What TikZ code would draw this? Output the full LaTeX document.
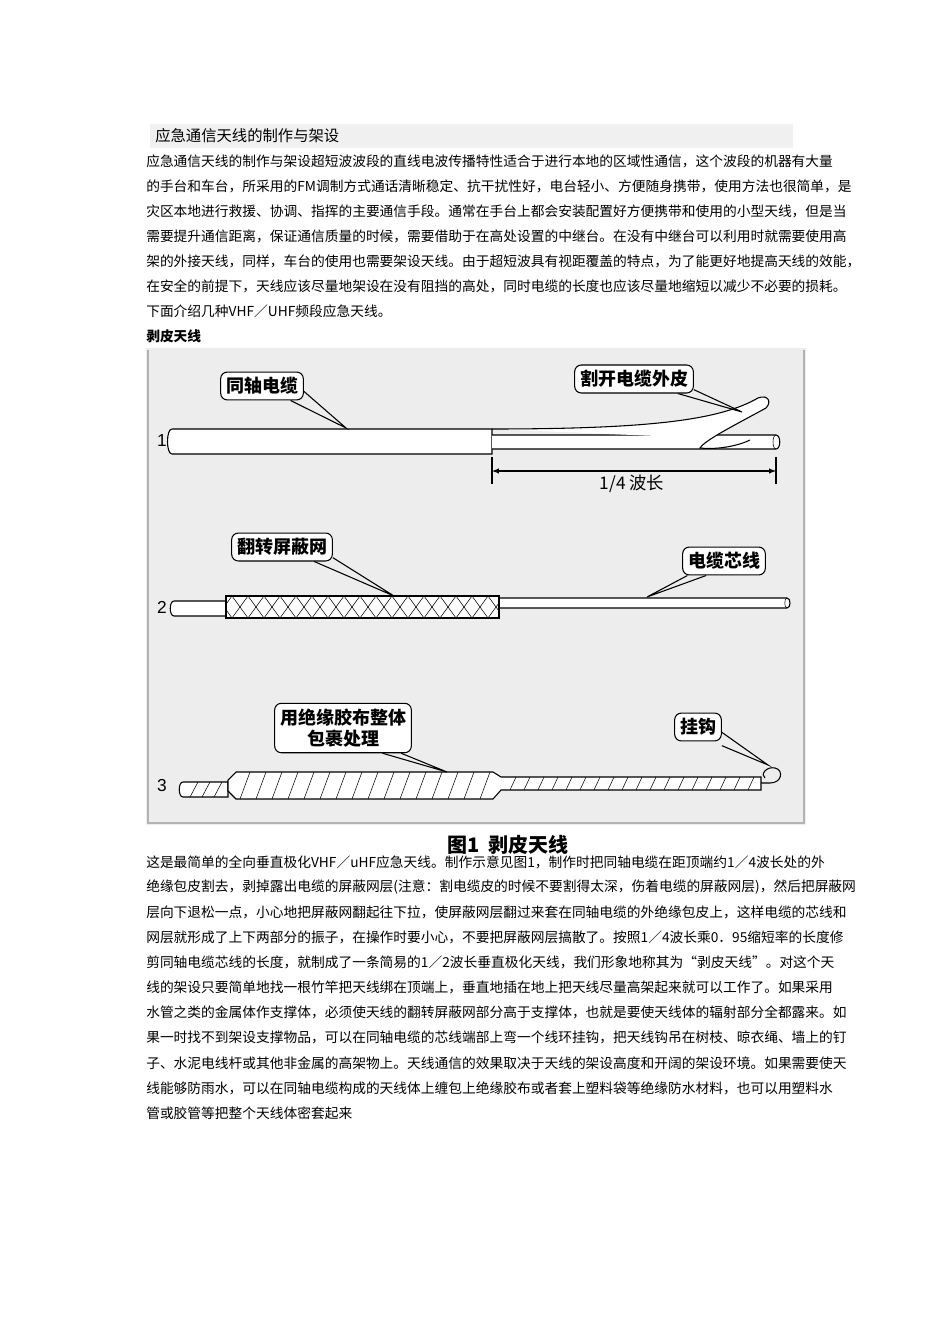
\documentclass[tikz,border=0pt]{standalone}
\usepackage{fontspec}
\setmainfont{Liberation Sans}
\newfontfamily\cjk{Noto Sans CJK SC}
\begin{document}
\begin{tikzpicture}[x=0.75pt,y=-0.75pt,
  body/.style={anchor=west,inner sep=0pt,font=\cjk\fontsize{10.3}{12}\selectfont},
  lbl/.style={draw,thick,rounded corners=5pt,fill=white,font=\cjk\bfseries\fontsize{13.5}{16}\selectfont,align=center,inner sep=4pt},
  ptr/.style={thick},
  cab/.style={thick,fill=white},
  num/.style={font=\fontsize{13}{14}\selectfont,inner sep=0pt}]
\useasboundingbox (0,0) rectangle (950,1344);
\fill[gray!12] (150,124) rectangle (793,148);
\node[body,font=\cjk\fontsize{11.5}{13}\selectfont] (title) at (155,136) {应急通信天线的制作与架设};
\foreach \t [count=\i from 0] in {
{应急通信天线的制作与架设超短波波段的直线电波传播特性适合于进行本地的区域性通信，这个波段的机器有大量},
{的手台和车台，所采用的FM调制方式通话清晰稳定、抗干扰性好，电台轻小、方便随身携带，使用方法也很简单，是},
{灾区本地进行救援、协调、指挥的主要通信手段。通常在手台上都会安装配置好方便携带和使用的小型天线，但是当},
{需要提升通信距离，保证通信质量的时候，需要借助于在高处设置的中继台。在没有中继台可以利用时就需要使用高},
{架的外接天线，同样，车台的使用也需要架设天线。由于超短波具有视距覆盖的特点，为了能更好地提高天线的效能，},
{在安全的前提下，天线应该尽量地架设在没有阻挡的高处，同时电缆的长度也应该尽量地缩短以减少不必要的损耗。},
{下面介绍几种VHF／UHF频段应急天线。}}
  \node[body] (p\i) at (146,161+25*\i) {\t};
\node[body,font=\cjk\bfseries\fontsize{10.3}{12}\selectfont] (h) at (146,336) {剥皮天线};
% figure
\fill[gray!14] (146,348) rectangle (806,825);
\draw[gray!60,thick] (148,350) -- (148,823) -- (804,823) -- (804,350);
% cable 1
\draw[cab] (172,429) -- (492,429) -- (492,454) -- (172,454) .. controls (166,454) and (166,429) .. (172,429);
\draw[cab] (492,435) -- (776,435) .. controls (781,435) and (781,449) .. (776,449) -- (492,449);
\draw (776,435) .. controls (772,435) and (772,449) .. (776,449);
\draw[cab] (492,429) .. controls (650,429) and (720,420) .. (758,398) .. controls (768,394) and (772,402) .. (766,408)
  .. controls (735,425) and (705,440) .. (700,448) .. controls (720,450) and (740,445) .. (750,440);
\draw[thick] (492,457) -- (492,484) (776,457) -- (776,484);
\draw[thick,<->,>=latex] (492,471) -- (776,471);
\node[num] (n1) at (162,441) {1};
\node[font=\cjk\fontsize{13}{15}\selectfont] (q) at (632,484) {1/4 波长};
\node[lbl] (l1) at (262,386) {同轴电缆};
\coordinate (t1) at (346,428);
\draw[ptr] ([xshift=-10pt]l1.south east) -- (t1) -- ([yshift=-4pt]l1.east);
\node[lbl] (l2) at (634,379) {割开电缆外皮};
\coordinate (t2) at (742,412);
\draw[ptr] ([xshift=-12pt]l2.south east) -- (t2) -- ([yshift=-8pt]l2.east);
% cable 2
\node[num] (n2) at (162,607) {2};
\draw[cab] (174,601) -- (226,601) -- (226,616) -- (174,616) .. controls (169,616) and (169,601) .. (174,601);
\draw[cab] (499,598) -- (787,598) .. controls (791,598) and (791,608) .. (787,608) -- (499,608);
\draw (787,598) .. controls (784,598) and (784,608) .. (787,608);
\draw[cab] (226,596) rectangle (499,618);
\begin{scope}
\clip (226,596) rectangle (499,618);
\foreach \x in {216,232,...,520} {\draw (\x,596) -- (\x+16,618); \draw (\x+16,596) -- (\x,618);}
\end{scope}
\draw[thick] (226,596) rectangle (499,618);
\node[lbl] (l3) at (282,547) {翻转屏蔽网};
\coordinate (t3) at (394,596);
\draw[ptr] ([xshift=-14pt]l3.south east) -- (t3) -- ([yshift=-8pt]l3.east);
\node[lbl] (l4) at (724,561) {电缆芯线};
\coordinate (t4) at (647,597);
\draw[ptr] ([xshift=4pt]l4.south west) -- (t4) -- ([xshift=18pt]l4.south west);
% cable 3
\node[num] (n3) at (162,786) {3};
\draw[cab] (183,782) -- (228,782) -- (228,797) -- (183,797) .. controls (178,797) and (178,782) .. (183,782);
\draw[cab] (236,772) -- (493,772) -- (501,777) -- (761,777) -- (761,790) -- (501,790) -- (493,799) -- (236,799) -- (228,791) -- (228,780) -- cycle;
\foreach \x in {190,202,214} \draw (\x,797) -- (\x+8,782);
\foreach \x in {240,256,...,490} \draw (\x,799) -- (\x+10,772);
\foreach \x in {510,524,...,755} \draw (\x,790) -- (\x+6,777);
\draw[thick] (761,783) -- (770,783) .. controls (782,783) and (784,770) .. (775,768) .. controls (766,766) and (760,775) .. (765,778);
\node[lbl] (l5) at (343,728) {用绝缘胶布整体\\包裹处理};
\coordinate (t5) at (447,772);
\draw[ptr] ([xshift=-22pt]l5.south east) -- (t5) -- ([xshift=-8pt]l5.south east);
\node[lbl] (l6) at (698,727) {挂钩};
\coordinate (t6) at (768,765);
\draw[ptr] ([yshift=-4pt]l6.east) -- (t6) -- ([yshift=-14pt]l6.east);
\node[font=\cjk\bfseries\fontsize{15}{17}\selectfont] (cap) at (508,845) {图1\ \ 剥皮天线};
\foreach \t [count=\i from 0] in {
{这是最简单的全向垂直极化VHF／uHF应急天线。制作示意见图1，制作时把同轴电缆在距顶端约1／4波长处的外},
{绝缘包皮割去，剥掉露出电缆的屏蔽网层(注意：割电缆皮的时候不要割得太深，伤着电缆的屏蔽网层)，然后把屏蔽网},
{层向下退松一点，小心地把屏蔽网翻起往下拉，使屏蔽网层翻过来套在同轴电缆的外绝缘包皮上，这样电缆的芯线和},
{网层就形成了上下两部分的振子，在操作时要小心，不要把屏蔽网层搞散了。按照1／4波长乘0．95缩短率的长度修},
{剪同轴电缆芯线的长度，就制成了一条简易的1／2波长垂直极化天线，我们形象地称其为“剥皮天线”。对这个天},
{线的架设只要简单地找一根竹竿把天线绑在顶端上，垂直地插在地上把天线尽量高架起来就可以工作了。如果采用},
{水管之类的金属体作支撑体，必须使天线的翻转屏蔽网部分高于支撑体，也就是要使天线体的辐射部分全都露来。如},
{果一时找不到架设支撑物品，可以在同轴电缆的芯线端部上弯一个线环挂钩，把天线钩吊在树枝、晾衣绳、墙上的钉},
{子、水泥电线杆或其他非金属的高架物上。天线通信的效果取决于天线的架设高度和开阔的架设环境。如果需要使天},
{线能够防雨水，可以在同轴电缆构成的天线体上缠包上绝缘胶布或者套上塑料袋等绝缘防水材料，也可以用塑料水},
{管或胶管等把整个天线体密套起来}}
  \node[body] (b\i) at (146,862+25.1*\i) {\t};
\end{tikzpicture}
\end{document}
